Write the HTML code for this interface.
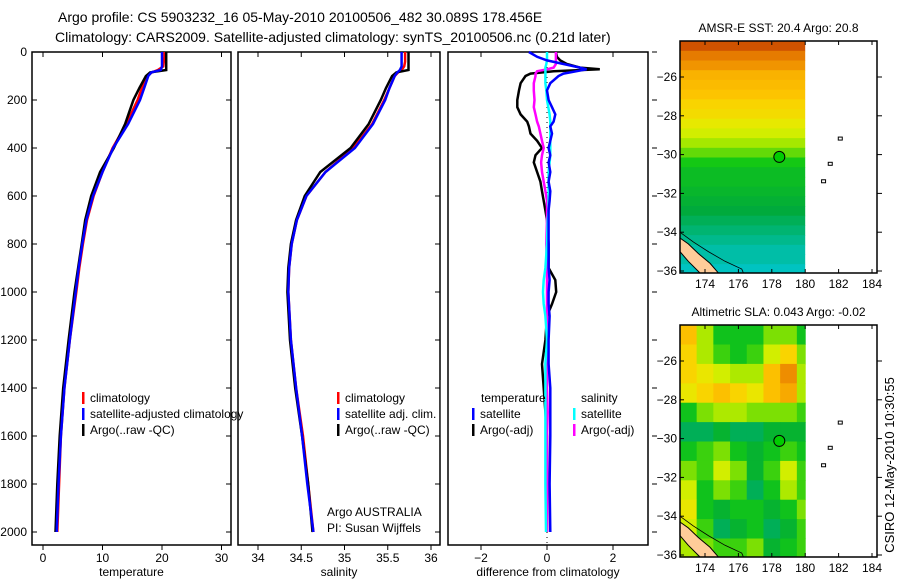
<!DOCTYPE html>
<html><head><meta charset="utf-8"><style>
html,body{margin:0;padding:0;background:#fff;}
svg{display:block;font-family:"Liberation Sans",sans-serif;}
</style></head><body>
<svg id="fig" width="900" height="580" viewBox="0 0 900 580" xmlns="http://www.w3.org/2000/svg">
<text x="58" y="22" font-size="14">Argo profile: CS 5903232_16 05-May-2010 20100506_482 30.089S 178.456E</text>
<text x="55" y="42" font-size="14">Climatology: CARS2009. Satellite-adjusted climatology: synTS_20100506.nc (0.21d later)</text>
<g id="p1"></g>
<g id="p2"></g>
<g id="p3"></g>
<g id="m1"></g>
<g id="m2"></g>
<text transform="translate(894,465) rotate(-90)" font-size="13" text-anchor="middle">CSIRO 12-May-2010 10:30:55</text>
</svg>
<script>
const depths=[0,20,40,60,75,85,100,150,200,300,400,500,600,700,800,900,1000,1200,1400,1600,1800,2000];
const tempClim=[20.4,20.4,20.3,20.2,19.3,18.3,17.5,16.6,15.9,14.0,11.7,10.0,8.5,7.4,6.7,6.1,5.6,4.5,3.6,3.0,2.7,2.4];
const tempSat=[20.0,20.0,20.0,20.0,19.8,18.2,17.7,17.0,16.3,14.3,11.8,10.0,8.4,7.3,6.6,6.0,5.5,4.5,3.6,3.0,2.6,2.3];
const tempArgo=[20.7,20.7,20.7,20.7,20.7,18.0,17.3,16.2,15.2,13.8,11.9,9.6,8.1,7.1,6.5,5.9,5.3,4.3,3.4,2.8,2.4,2.1];
const salClim=[35.70,35.70,35.70,35.69,35.66,35.62,35.58,35.52,35.46,35.32,35.10,34.78,34.56,34.45,34.39,34.36,34.35,34.38,34.44,34.52,34.58,34.64];
const salSat=[35.66,35.66,35.66,35.66,35.64,35.61,35.58,35.52,35.47,35.33,35.12,34.78,34.56,34.45,34.39,34.36,34.35,34.38,34.44,34.51,34.57,34.64];
const salArgo=[35.74,35.74,35.74,35.74,35.74,35.60,35.55,35.48,35.42,35.28,35.07,34.72,34.54,34.44,34.38,34.35,34.34,34.37,34.43,34.51,34.58,34.63];
const diffDepths=[0,20,35,50,65,72,80,90,100,130,160,200,230,260,290,310,340,370,400,430,460,500,540,580,620,660,700,800,900,950,1000,1050,1100,1200,1300,1400,1500,1600,1800,2000];
const dTempSat=[-0.55,-0.3,0,0.5,1.0,1.2,0.9,0.5,0.35,0.1,0,0.05,0.15,0.25,0.2,0.1,0.15,0.1,0.05,0.1,0.05,0.1,0.05,0.1,0.08,0.05,0.05,0.05,0.05,0.08,0.05,0.05,0.08,0.05,0.05,0.1,0.1,0.1,0.08,0.1];
const dTempArgo=[0.27,0.3,0.4,0.6,1.0,1.6,0.2,-0.5,-0.65,-0.8,-0.85,-0.9,-0.9,-0.8,-0.6,-0.55,-0.5,-0.3,-0.15,-0.35,-0.4,-0.3,-0.2,-0.15,-0.1,-0.05,0.0,0.05,0.05,0.25,0.28,0.15,0.0,-0.05,-0.15,-0.1,-0.05,0.0,0.0,0.0];
const dSalArgo=[0.27,0.27,0.27,0.27,0.2,0,-0.3,-0.35,-0.35,-0.4,-0.4,-0.38,-0.4,-0.35,-0.3,-0.25,-0.2,-0.15,-0.1,-0.15,-0.18,-0.15,-0.1,-0.05,0,0,0,-0.02,0,0,0,0,0,0,0,0,0.02,0,0,0];
const dSalSat=[0,0,0,-0.02,-0.05,-0.05,-0.05,-0.05,-0.05,-0.05,-0.02,0,0.04,0.08,0.1,0.1,0.1,0.1,0.1,0.1,0.08,0.05,0.05,0.05,0.05,0.05,0.02,0,-0.05,-0.1,-0.12,-0.1,-0.05,0,-0.05,-0.05,-0.05,-0.05,-0.05,-0.03];
const depthTicks=[0,200,400,600,800,1000,1200,1400,1600,1800,2000];
const tempTicks=[0,10,20,30];
const salTicks=[34,34.5,35,35.5,36];
const diffTicks=[-2,0,2];
// SST by latitude rows (0.5 deg, from -24.15 southward), deg C
const sstRows=[23.3,23.0,22.8,22.5,22.4,22.3,22.1,22.0,21.8,21.6,21.3,21.0,20.7,20.5,20.5,20.4,20.3,20.2,20.1,20.0,19.9,19.8,19.8,19.7];
// SLA grid, 1 deg rows from -24.15, cols from 172.5
const slaGrid=[
[.75,.55,.4,.4,.4,.5,.5,.4],
[.7,.55,.45,.4,.45,.6,.7,.5],
[.7,.65,.6,.55,.55,.75,.85,.55],
[.65,.7,.75,.7,.65,.75,.8,.55],
[.4,.5,.55,.55,.5,.5,.5,.45],
[.3,.3,.35,.3,.3,.35,.35,.35],
[.4,.45,.5,.4,.35,.4,.45,.4],
[.5,.45,.6,.5,.35,.45,.6,.45],
[.6,.4,.5,.45,.3,.4,.55,.45],
[.65,.4,.35,.4,.4,.35,.4,.5],
[.6,.45,.3,.35,.4,.3,.35,.45],
[.55,.5,.45,.45,.5,.35,.4,.45]];
const latTicks=[-26,-28,-30,-32,-34,-36];
const lonTicks=[174,176,178,180,182,184];

const NS="http://www.w3.org/2000/svg";
function mk(parent,tag,attrs){const e=document.createElementNS(NS,tag);for(const k in attrs)e.setAttribute(k,attrs[k]);parent.appendChild(e);return e;}
const yD=d=>52+d*0.24;
const TOP=52,BOT=545;

function frame(g,x0,x1,xfun,xt,xlab,showY,rightTicks){
  const r=mk(g,'rect',{x:x0,y:TOP,width:x1-x0,height:BOT-TOP,fill:'none',stroke:'#000','stroke-width':1.5});
  
  xt.forEach(t=>{const x=xfun(t);
    mk(g,'line',{x1:x,x2:x,y1:TOP,y2:TOP+5,stroke:'#000'});
    mk(g,'line',{x1:x,x2:x,y1:BOT,y2:BOT+5,stroke:'#000'});
    const tx=mk(g,'text',{x:x,y:BOT+17,'font-size':12,'text-anchor':'middle'});tx.textContent=(t<0?'\u2212'+(-t):t);
    
  });
  depthTicks.forEach(d=>{const y=yD(d);
    if(showY){mk(g,'line',{x1:x0,x2:x0+5,y1:y,y2:y,stroke:'#000'});
      const tx=mk(g,'text',{x:x0-5,y:y+4,'font-size':12,'text-anchor':'end'});tx.textContent=d;
      }
    if(rightTicks)mk(g,'line',{x1:x1+4,x2:x1+9,y1:y,y2:y,stroke:'#000'});
    else mk(g,'line',{x1:x1-5,x2:x1,y1:y,y2:y,stroke:'#000'});
  });
  const lab=mk(g,'text',{x:(x0+x1)/2,y:BOT+31,'font-size':12,'text-anchor':'middle'});lab.textContent=xlab;
  
}
function line(g,ds,vals,xfun,color,name,w){
  const pts=vals.map((v,i)=>xfun(v).toFixed(1)+','+yD(ds[i]).toFixed(1)).join(' ');
  const p=mk(g,'polyline',{points:pts,fill:'none',stroke:color,'stroke-width':w||2.5,'stroke-linejoin':'miter'});
  
}
function legend(g,x,y,color,text,name){
  mk(g,'rect',{x:x,y:y-10,width:2.5,height:12,fill:color});
  const t=mk(g,'text',{x:x+8,y:y,'font-size':12});t.textContent=text;
  
}
const p1=document.getElementById('p1');const xT=t=>43+t*5.95;
frame(p1,32,231,xT,tempTicks,'temperature',true,false);
line(p1,depths,tempClim,xT,'#f00','temp-climatology-line');
line(p1,depths,tempArgo,xT,'#000','temp-argo-line');
line(p1,depths,tempSat,xT,'#00f','temp-satellite-line');
legend(p1,82,402,'#f00','climatology','legend-climatology');
legend(p1,82,418,'#00f','satellite-adjusted climatology','legend-satellite-adjusted');
legend(p1,82,434,'#000','Argo(..raw -QC)','legend-argo');
const p2=document.getElementById('p2');const xS=s=>258+(s-34)*86.5;
frame(p2,238,440,xS,salTicks,'salinity',false,false);
line(p2,depths,salClim,xS,'#f00','sal-climatology-line');
line(p2,depths,salArgo,xS,'#000','sal-argo-line');
line(p2,depths,salSat,xS,'#00f','sal-satellite-line');
mk(p2,'rect',{x:440.8,y:380,width:6,height:60,fill:'#fff'});
legend(p2,337,402,'#f00','climatology','legend-sal-climatology');
legend(p2,337,418,'#00f','satellite adj. clim.','legend-sal-satellite');
legend(p2,337,434,'#000','Argo(..raw -QC)','legend-sal-argo');
let t1=mk(p2,'text',{x:327,y:516,'font-size':12});t1.textContent='Argo AUSTRALIA';

let t2=mk(p2,'text',{x:327,y:532,'font-size':12});t2.textContent='PI: Susan Wijffels';

const p3=document.getElementById('p3');const xDf=d=>547+d*33;
frame(p3,448,648,xDf,diffTicks,'difference from climatology',false,true);
mk(p3,'line',{x1:xDf(0),x2:xDf(0),y1:TOP,y2:BOT,stroke:'#000','stroke-dasharray':'1,4'});
line(p3,diffDepths,dTempArgo,xDf,'#000','diff-temp-argo-line');
line(p3,diffDepths,dSalArgo,xDf,'#f0f','diff-sal-argo-line');
line(p3,diffDepths,dSalSat,xDf,'#0ff','diff-sal-satellite-line');
line(p3,diffDepths,dTempSat,xDf,'#00f','diff-temp-satellite-line');
let lt=mk(p3,'text',{x:481,y:402,'font-size':12});lt.textContent='temperature';

let ls=mk(p3,'text',{x:581,y:402,'font-size':12});ls.textContent='salinity';

legend(p3,472,418,'#00f','satellite','legend-temp-satellite');
legend(p3,472,434,'#000','Argo(-adj)','legend-temp-argo');
legend(p3,573,418,'#0ff','satellite','legend-sal-satellite-diff');
legend(p3,573,434,'#f0f','Argo(-adj)','legend-sal-argo-diff');

const stops=[[0,[0,90,255]],[0.2,[0,200,220]],[0.32,[0,170,60]],[0.42,[20,200,20]],[0.52,[150,230,0]],[0.62,[225,240,0]],[0.72,[255,205,0]],[0.82,[245,160,0]],[0.9,[225,110,0]],[1,[180,40,0]]];
function cmap(v){v=Math.max(0,Math.min(1,v));for(let i=1;i<stops.length;i++){if(v<=stops[i][0]){const a=stops[i-1],b=stops[i],f=(v-a[0])/(b[0]-a[0]);
 const c=a[1].map((x,k)=>Math.round(x+(b[1][k]-x)*f));return 'rgb('+c.join(',')+')';}}return 'rgb(180,40,0)';}
function mapPanel(g,top,title,drawData){
  const L=680,R=877,B=top+232,lonX=l=>705+(l-174)*16.7,latY=a=>top+36+(-26-a)*19.4;
  const tt=mk(g,'text',{x:(L+R)/2,y:top-9,'font-size':12,'text-anchor':'middle'});tt.textContent=title;
  
  drawData(lonX,latY,top);
  const nz=[[172.5,-34.3],[173.0,-34.6],[173.6,-35.1],[174.3,-35.6],[174.8,-36.1],[173.7,-36.1],[173.0,-35.5],[172.5,-35.0]];
  const land=mk(g,'polygon',{points:nz.map(p=>lonX(p[0])+','+latY(p[1])).join(' '),fill:'#fc9',stroke:'#000','stroke-width':1});
  
  const cont=mk(g,'polyline',{points:[[172.5,-34.0],[173.3,-34.5],[174.2,-35.0],[175.2,-35.5],[176.2,-35.9],[176.3,-36.1]].map(p=>lonX(p[0])+','+latY(p[1])).join(' '),fill:'none',stroke:'#000','stroke-width':0.8});
  
  mk(g,'rect',{x:L,y:B,width:200,height:10,fill:'#fff'});
  [[182.1,-29.2],[181.5,-30.5],[181.1,-31.4]].forEach(p=>{
    const isl=mk(g,'rect',{x:lonX(p[0])-2,y:latY(p[1])-2,width:4,height:3,fill:'none',stroke:'#000','stroke-width':1});
    });
  const c=mk(g,'circle',{cx:lonX(178.45),cy:latY(-30.12),r:5.5,fill:'#0c0',stroke:'#000','stroke-width':1});
  
  const fr=mk(g,'rect',{x:L,y:top,width:R-L,height:B-top,fill:'none',stroke:'#000','stroke-width':1.5});
  
  lonTicks.forEach(l=>{const x=lonX(l);mk(g,'line',{x1:x,x2:x,y1:top,y2:top+4,stroke:'#000'});mk(g,'line',{x1:x,x2:x,y1:B-4,y2:B,stroke:'#000'});
    const t=mk(g,'text',{x:x,y:B+15,'font-size':12,'text-anchor':'middle'});t.textContent=l;
    });
  latTicks.forEach(a=>{const y=latY(a);mk(g,'line',{x1:L,x2:L+4,y1:y,y2:y,stroke:'#000'});mk(g,'line',{x1:R,x2:R+5,y1:y,y2:y,stroke:'#000'});
    const t=mk(g,'text',{x:L-3,y:y+4,'font-size':12,'text-anchor':'end'});t.textContent='\u2212'+(-a);
    });
}
mapPanel(document.getElementById('m1'),41,'AMSR-E SST: 20.4  Argo: 20.8',(lonX,latY)=>{
  const g=document.getElementById('m1');
  sstRows.forEach((v,i)=>{const a0=-24.15-i*0.5;
    const r=mk(g,'rect',{x:lonX(172.5),y:latY(a0),width:lonX(180)-lonX(172.5),height:latY(a0-0.5)-latY(a0)+0.5,fill:cmap((v-18.6)/5)});
    });
});
mapPanel(document.getElementById('m2'),325,'Altimetric SLA: 0.043  Argo: -0.02',(lonX,latY)=>{
  const g=document.getElementById('m2');
  slaGrid.forEach((row,i)=>row.forEach((v,j)=>{const a0=-24.15-i,l0=172.5+j,l1=Math.min(180,l0+1);
    const r=mk(g,'rect',{x:lonX(l0),y:latY(a0),width:lonX(l1)-lonX(l0)+0.5,height:latY(a0-1)-latY(a0)+0.5,fill:cmap(v)});
    }));
});
</script>
</body></html>
